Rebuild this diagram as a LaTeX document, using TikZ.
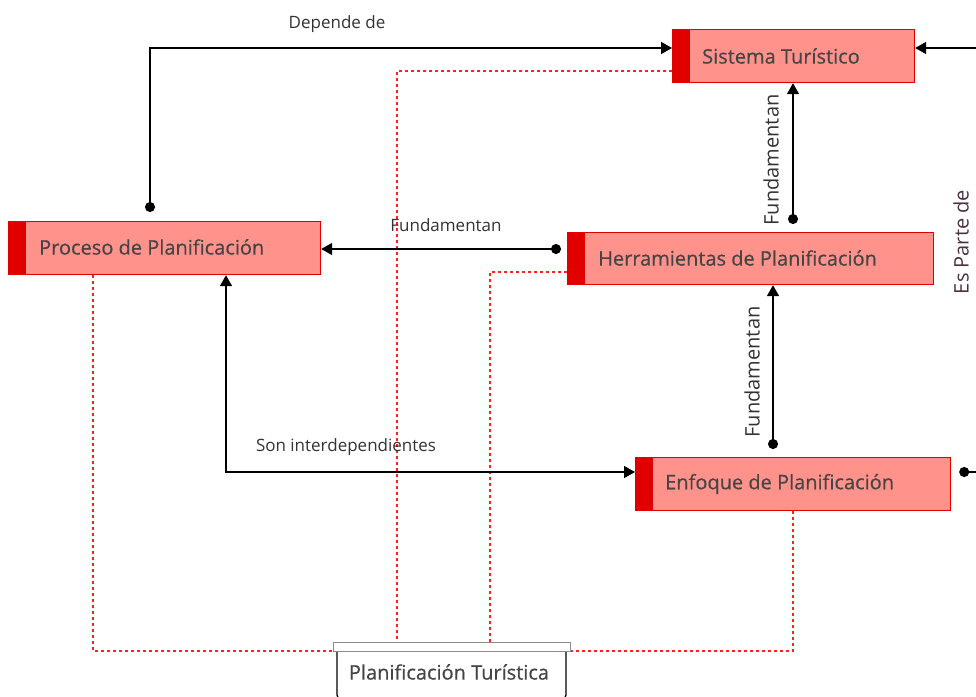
\documentclass[tikz,border=0pt]{standalone}
\usepackage{fontspec}
\setmainfont{Open Sans}
\newfontfamily\boxfont[FakeBold=0.5]{Open Sans}
\usetikzlibrary{arrows.meta,calc}
\definecolor{boxfill}{HTML}{FF938B}
\definecolor{boxred}{HTML}{E00000}
\definecolor{txtgray}{HTML}{454545}
\definecolor{lblgray}{HTML}{333333}
\definecolor{dotred}{HTML}{FF2020}
\definecolor{esparte}{HTML}{4A3040}
\begin{document}
\begin{tikzpicture}[x=1pt,y=-1pt,
  conc/.style={draw=boxred,line width=1.2pt,fill=boxfill,minimum height=53pt,inner sep=0pt,anchor=north west},
  ctext/.style={text=txtgray,font=\boxfont\fontsize{20}{22}\selectfont,anchor=west,inner sep=0pt},
  conn/.style={draw=black,line width=1.6pt,-{Triangle[width=12pt,length=11pt]}},
  dotstart/.style={{Circle[length=10pt]}-{Triangle[width=12pt,length=11pt]}},
  rel/.style={draw=dotred,line width=1.8pt,dash pattern=on 3pt off 3pt},
  lbl/.style={text=lblgray,font=\fontsize{17}{19}\selectfont,inner sep=0pt},
  vlbl/.style={text=lblgray,font=\fontsize{20}{22}\selectfont,inner sep=0pt,rotate=90}]
\useasboundingbox (0,0) rectangle (976,696);
% concept boxes
\node[conc,minimum width=242pt] (sis) at (672,29) {};
\node[conc,minimum width=312pt] (pro) at (8,221) {};
\node[conc,minimum width=366pt,minimum height=52pt] (her) at (567,232) {};
\node[conc,minimum width=315pt] (enf) at (635,457) {};
\foreach \b in {sis,pro,her,enf}{
  \fill[boxred] (\b.north west) rectangle ($(\b.south west)+(18,0)$);
}
\node[ctext] (sist) at (702,56) {Sistema Turístico};
\node[ctext] (prot) at (39,247) {Proceso de Planificación};
\node[ctext] (hert) at (598,258) {Herramientas de Planificación};
\node[ctext] (enft) at (665,484) {Enfoque de Planificación};
% root
\draw[black,line width=1.3pt,rounded corners=5pt] (337,651) -- (337,700) -- (566,700) -- (566,651);
\node[draw=gray!90,line width=1.3pt,fill=white,minimum width=237pt,minimum height=9pt,inner sep=0pt,anchor=north west] (bar) at (333,642) {};
\node[ctext,anchor=center] (root) at (449,672) {Planificación Turística};
% dotted relations
\draw[rel] (pro.south -| 93,0) -- (93,651) -- (bar.west |- 0,651);
\draw[rel] (sis.west |- 0,71) -- (397,71) -- (bar.north -| 397,0);
\draw[rel] (her.west |- 0,272) -- (490,272) -- (bar.north -| 490,0);
\draw[rel] (enf.south -| 793,0) -- (793,651) -- (bar.east |- 0,651);
% connectors
\coordinate (rin) at (976,48);
\coordinate (rout) at (976,472);
\draw[conn,dotstart] (pro.north -| 150,0) ++(0,-9) -- (150,48) -- (sis.west |- 0,48);
\draw[conn] (rin) -- (sis.east |- 0,48);
\draw[conn,dotstart] ($(her.north -| 793,0)+(0,-8)$) -- (sis.south -| 793,0);
\draw[conn,dotstart] ($(her.west |- 0,249)+(-6,0)$) -- (pro.east |- 0,249);
\draw[conn,dotstart] ($(enf.north -| 773,0)+(0,-8)$) -- (her.south -| 773,0);
\draw[conn,{Triangle[width=12pt,length=11pt]}-{Triangle[width=12pt,length=11pt]}] (pro.south -| 226,0) -- (226,472) -- (enf.west |- 0,472);
\draw[line width=1.6pt,{Circle[length=10pt]}-] ($(enf.east |- 0,472)+(8,0)$) -- (rout);
% labels
\node[lbl] (l1) at (337,24) {Depende de};
\node[lbl] (l2) at (446,225) {Fundamentan};
\node[lbl] (l3) at (346,447) {Son interdependientes};
\node[vlbl] (l4) at (771,160) {Fundamentan};
\node[vlbl] (l5) at (752,372) {Fundamentan};
\node[vlbl,text=esparte] (l6) at (961,242) {Es Parte de};
\end{tikzpicture}
\end{document}
